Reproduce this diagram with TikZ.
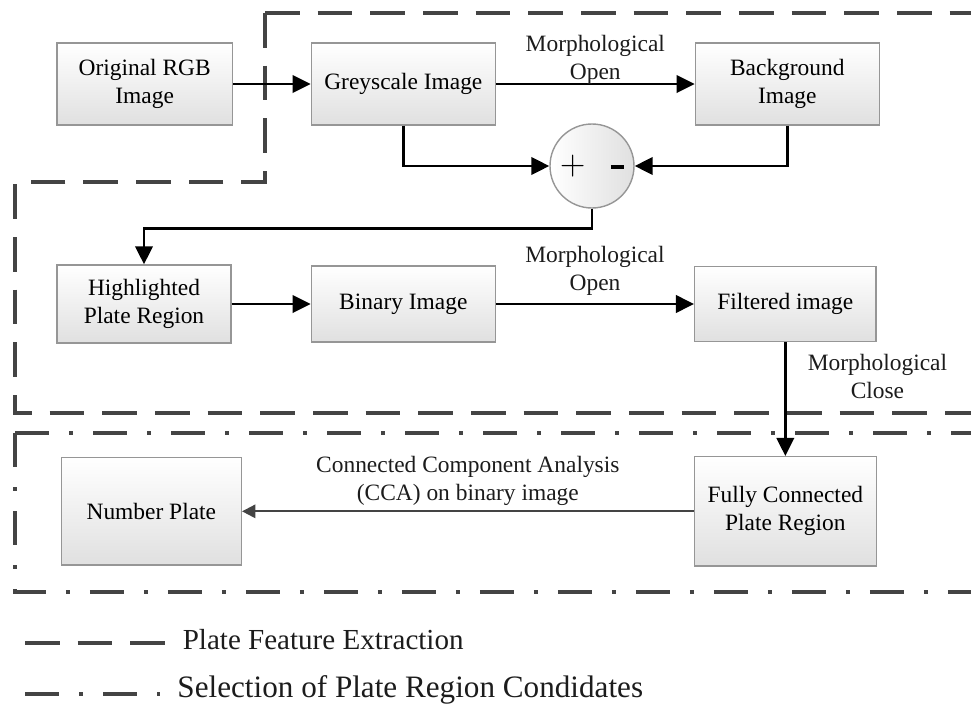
\documentclass[tikz,border=0pt]{standalone}
\usepackage{fontspec}
\setmainfont{Liberation Serif}
\usetikzlibrary{arrows.meta,positioning,calc}
\definecolor{bEdge}{RGB}{150,150,150}
\definecolor{bFill}{RGB}{224,224,224}
\definecolor{rLine}{RGB}{68,68,68}
\definecolor{tDark}{RGB}{28,28,28}

\begin{document}
\begin{tikzpicture}[
			n/.style={
				draw=bEdge,
				top color=white,
				bottom color=bFill,
				line width=0.6pt,
				minimum width=2.76cm,
				minimum height=1.23cm,
				align=center,
				inner sep=2pt
			},
			o/.style={circle,draw=bEdge,left color=white,right color=bFill,
				line width=0.6pt,minimum size=1.26cm,inner sep=0pt},
			conn/.style={line width=1.2pt,-{Triangle[length=0.27cm,width=0.26cm]}},
			lbl/.style={align=center,inner sep=1pt,text=tDark},
			fe/.style={draw=rLine,line width=1.7pt,dash pattern=on 0.52cm off 0.27cm},
			sc/.style={draw=rLine,line width=1.7pt,dash pattern=on 0.51cm off 0.3cm on 0.06cm off 0.3cm}
			]
			\useasboundingbox (0,0) rectangle (14.565,-10.59);
			% frames
			\draw[fe] (3.975,-0.195) -- (14.8,-0.195);
			\draw[fe] (3.975,-0.195) -- (3.975,-2.73) -- (0.225,-2.73) -- (0.225,-6.195) -- (14.8,-6.195);
			\draw[sc] (0.225,-6.495) -- (14.8,-6.495);
			\draw[sc] (0.225,-6.495) -- (0.225,-8.88) -- (14.8,-8.88);
			% blocks
			\node[n,minimum width=2.63cm](a) at (2.17,-1.26) {Original RGB\\Image};
			\node[n](b) at (6.05,-1.26) {Greyscale Image};
			\node[n](c) at (11.81,-1.26) {Background\\Image};
			\node[o](m) at (8.88,-2.49) {{\Large$+$}\hspace{0.38cm}\rule[0.08cm]{0.2cm}{0.065cm}};
			\node[n,minimum width=2.61cm,minimum height=1.17cm](d) at (2.16,-4.56) {Highlighted\\Plate Region};
			\node[n,minimum height=1.14cm](e) at (6.05,-4.56) {Binary Image};
			\node[n,minimum width=2.72cm,minimum height=1.13cm](f) at (11.78,-4.56) {Filtered image};
			\node[n,minimum width=2.73cm,minimum height=1.64cm](g) at (11.78,-7.67) {Fully Connected\\Plate Region};
			\node[n,minimum width=2.70cm,minimum height=1.61cm](h) at (2.27,-7.67) {Number Plate};
			% connectors
			\draw[conn] (a) -- (b);
			\draw[conn] (b) -- node[lbl,above=-2pt]{Morphological\\Open} (c);
			\draw[conn] (b.south) |- (m.west);
			\draw[conn] (c.south) |- (m.east);
			\draw[conn] (m.south) -- ++(0,-0.3) -| (d.north);
			\draw[conn] (d) -- (e);
			\draw[conn] (e) -- node[lbl,above=2pt]{Morphological\\Open} (f);
			\draw[conn] (f.south) -- node[lbl,pos=0.3,right=8pt]{Morphological\\Close} (g.north);
			\draw[line width=0.9pt,draw=rLine,-{Triangle[length=0.2cm,width=0.2cm]}] (g) -- node[lbl,above=1pt]{Connected Component Analysis\\(CCA) on binary image} (h);
			% legend
			\node[lbl,anchor=west,font=\fontsize{12.4}{15}\selectfont](k1) at (2.7,-9.6) {Plate Feature Extraction};
			\node[lbl,anchor=west,font=\fontsize{13.3}{16}\selectfont](k2) at (2.62,-10.35) {Selection of Plate Region Condidates};
			\draw[fe] (0.375,-9.645) -- (2.48,-9.645);
			\draw[sc] (0.375,-10.41) -- (2.4,-10.41);
		\end{tikzpicture}
\end{document}
